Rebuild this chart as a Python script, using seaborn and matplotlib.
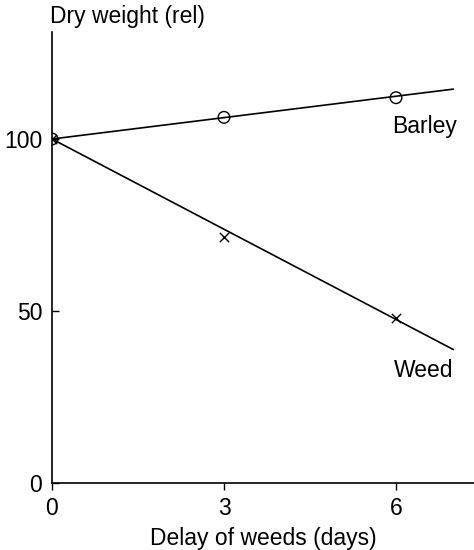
import matplotlib
matplotlib.use("Agg")
import matplotlib.pyplot as plt
import seaborn as sns
import pandas as pd

# --- DATA ---
delay_days = [0, 3, 6]
barley = [100, 106.3, 112]
weed = [100, 71.5, 48]

# fitted lines drawn from day 0 to day 7
line_days = [0, 7]
barley_line = [100, 114.5]
weed_line = [100, 38.8]

x_ticks = [0, 3, 6]
y_ticks = [0, 50, 100]

sns.set_theme(style="white")
plt.rcParams['font.family'] = ['Liberation Sans', 'DejaVu Sans']
FS = 16.5

fig = plt.figure(figsize=(4.74, 5.5), dpi=100)
ax = fig.add_axes([52 / 474, (550 - 483) / 550, (474 - 52) / 474, (483 - 32) / 550])

pts = pd.DataFrame({"day": delay_days, "barley": barley, "weed": weed})
lines = pd.DataFrame({"day": line_days, "barley": barley_line, "weed": weed_line})

sns.lineplot(data=lines, x="day", y="barley", ax=ax, color="black", lw=1.2)
sns.lineplot(data=lines, x="day", y="weed", ax=ax, color="black", lw=1.2)
sns.scatterplot(data=pts, x="day", y="barley", ax=ax, marker="o", s=70,
                facecolor="none", edgecolor="black", linewidth=1.0, zorder=3)
sns.scatterplot(data=pts, x="day", y="weed", ax=ax, marker="x", s=45,
                color="black", linewidth=1.0, zorder=3)

ax.set_xlim(0, (474 - 52) / 57.33)
ax.set_ylim(0, (483 - 32) / 3.44)
ax.set_xticks(x_ticks)
ax.set_yticks(y_ticks)
ax.tick_params(axis="x", direction="out", length=5, width=1, colors="black",
               labelsize=FS, pad=5)
ax.tick_params(axis="y", direction="in", length=5, width=1, colors="black",
               labelsize=FS, pad=7)
ax.tick_params(left=True, bottom=True)
sns.despine(ax=ax)
for s in ["left", "bottom"]:
    ax.spines[s].set_color("black")
    ax.spines[s].set_linewidth(1.2)

ax.set_xlabel("Delay of weeds (days)", fontsize=FS, color="black", labelpad=5)
ax.set_ylabel("")
fig.text(50 / 474, 1 - 17 / 550, "Dry weight (rel)", fontsize=FS, color="black",
         va="center", ha="left")

ax.text(6.49, 103.5, "Barley", fontsize=FS, color="black", ha="center", va="center")
ax.text(6.49, 32.8, "Weed", fontsize=FS, color="black", ha="center", va="center")

fig.savefig("out.png", dpi=100)
